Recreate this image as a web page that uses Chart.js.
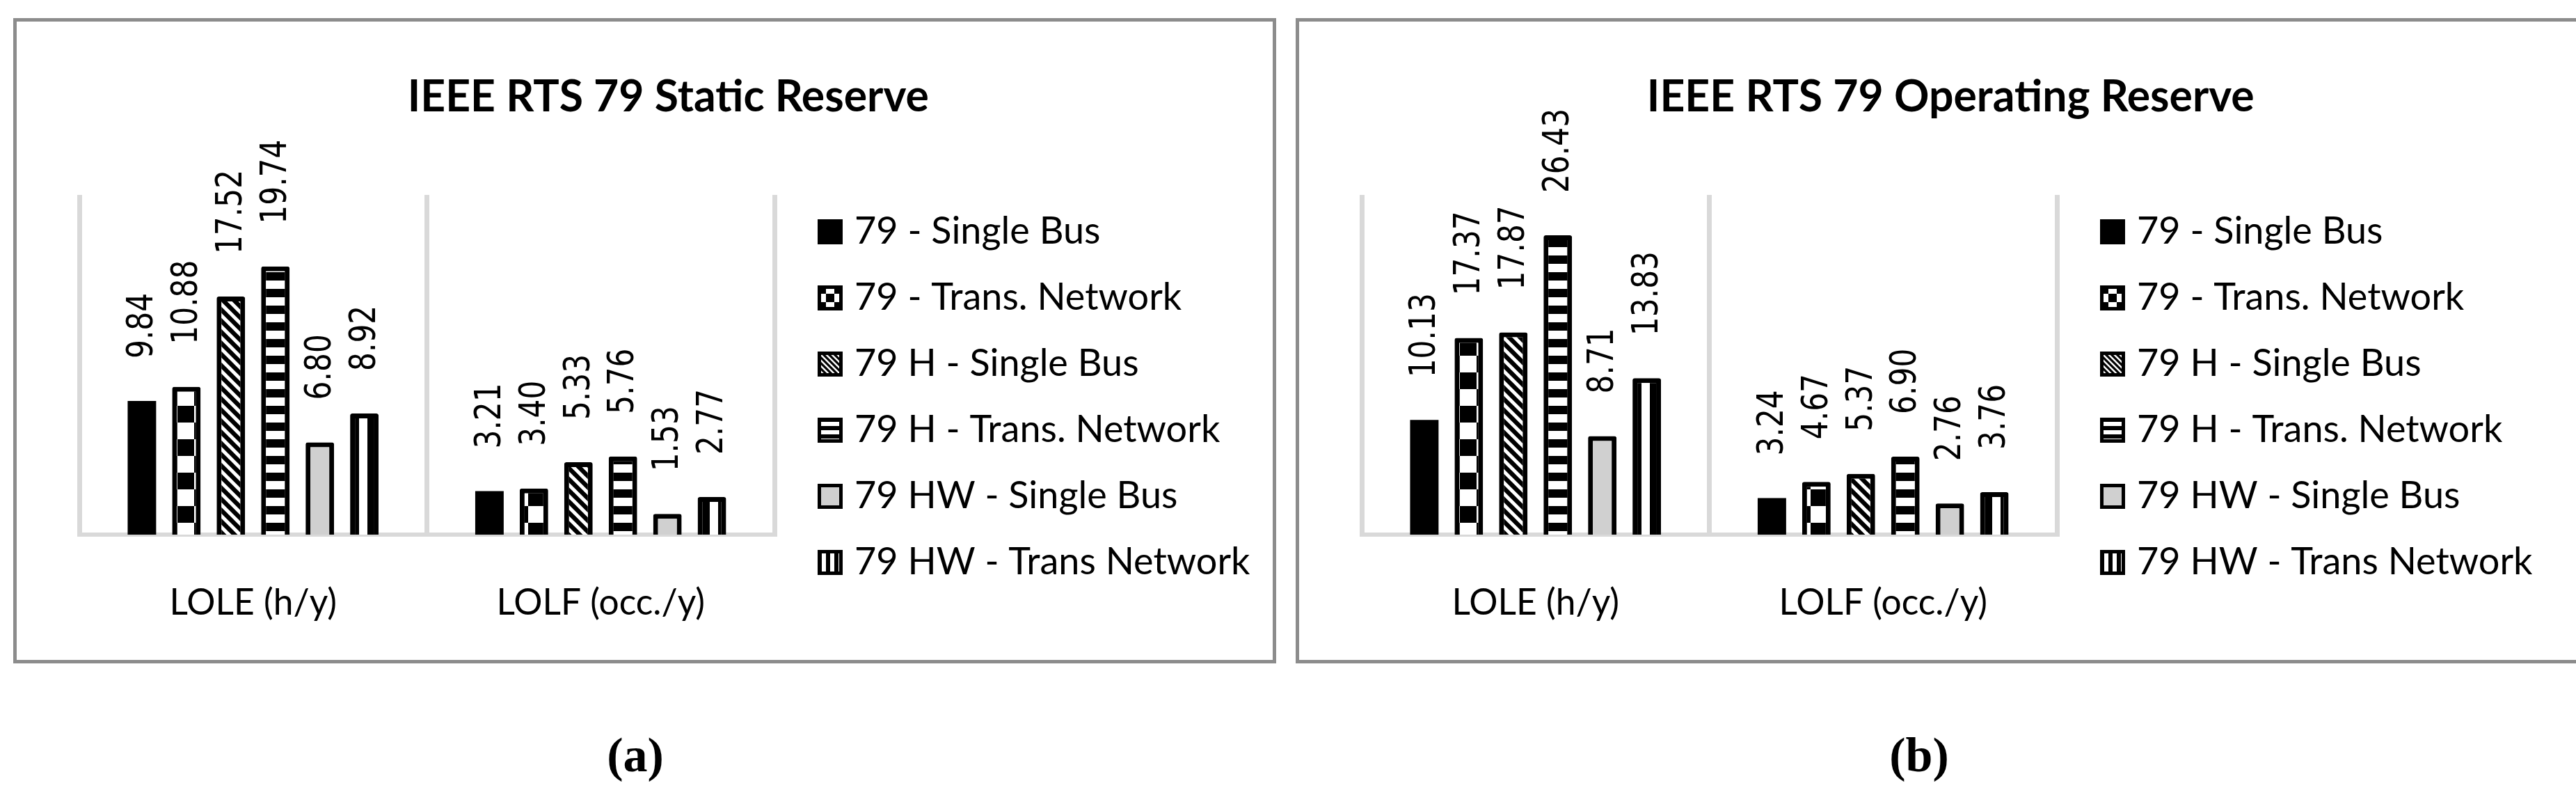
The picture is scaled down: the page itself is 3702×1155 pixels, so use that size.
<!DOCTYPE html>
<html>
<head>
<meta charset="utf-8">
<script src="https://cdn.jsdelivr.net/npm/chart.js@4.4.0/dist/chart.umd.min.js"></script>
<style>
  html, body { margin: 0; padding: 0; background: #fff; }
  body { width: 3702px; height: 1155px; position: relative; overflow: hidden; }
  .frame { position: absolute; top: 26px; height: 917px; border: 5px solid #8c8c8c; background: #fff; }
  #frameA { left: 19px; width: 1805px; }
  #frameB { left: 1862px; width: 1840px; }
  .frame canvas { position: absolute; left: 0; top: 0; }
  .cap { position: absolute; top: 1050px; width: 200px; text-align: center;
         font-family: "Liberation Serif", serif; font-weight: bold; font-size: 70px; line-height: 70px; }
</style>
</head>
<body>
<div class="frame" id="frameA"><canvas id="chartA" width="1805" height="933"></canvas></div>
<div class="frame" id="frameB"><canvas id="chartB" width="1805" height="933"></canvas></div>
<div class="cap" style="left:813px">(a)</div>
<div class="cap" style="left:2658px">(b)</div>
<script>
// values
const categories = ["LOLE (h/y)", "LOLF (occ./y)"];
const seriesNames = ["79 - Single Bus", "79 - Trans. Network", "79 H - Single Bus",
                     "79 H - Trans. Network", "79 HW - Single Bus", "79 HW - Trans Network"];
const staticLOLE = [9.84, 10.88, 17.52, 19.74, 6.80, 8.92];
const staticLOLF = [3.21, 3.40, 5.33, 5.76, 1.53, 2.77];
const operatingLOLE = [10.13, 17.37, 17.87, 26.43, 8.71, 13.83];
const operatingLOLF = [3.24, 4.67, 5.37, 6.90, 2.76, 3.76];
const staticMax = 25;
const operatingMax = 30;

// layout (canvas pixels)
const W = 1805;
const legendFont = 54, legendPad = 41, legendBox = 16;
const legendLeft = 1120, plotLeft = 90, plotRight = 1089, titleCenter = 938;

function tile(size, draw) {
  const c = document.createElement("canvas");
  c.width = c.height = size;
  draw(c.getContext("2d"), size);
  return c;
}
function checker(cell) {
  return tile(cell * 2, (g, s) => {
    g.fillStyle = "#fff"; g.fillRect(0, 0, s, s);
    g.fillStyle = "#000"; g.fillRect(0, 0, cell, cell); g.fillRect(cell, cell, cell, cell);
  });
}
function diagonal(p, w) {
  return tile(p, (g, s) => {
    g.fillStyle = "#000"; g.fillRect(0, 0, s, s);
    g.strokeStyle = "#fff"; g.lineWidth = w;
    for (const k of [-s, 0, s]) {
      g.beginPath(); g.moveTo(k - 2, -2); g.lineTo(k + s + 2, s + 2); g.stroke();
    }
  });
}
function hbands(p) {
  return tile(p, (g, s) => {
    g.fillStyle = "#fff"; g.fillRect(0, 0, s, s);
    g.fillStyle = "#000"; g.fillRect(0, 0, s, s / 2);
  });
}
function vbands(p) {
  return tile(p, (g, s) => {
    g.fillStyle = "#fff"; g.fillRect(0, 0, s, s);
    g.fillStyle = "#000"; g.fillRect(0, 0, s / 2, s);
  });
}

function makeFills(ctx, big) {
  const sc = big ? 1 : 0.5;
  const pat = (c) => ctx.createPattern(c, "repeat");
  const ch = pat(checker(Math.round(24 * sc)));
  if (big) ch.setTransform(new DOMMatrix().translate(15, 0));
  return ["#000", ch, pat(diagonal(Math.round(16 * sc), 5 * sc)),
          pat(hbands(Math.round(24 * sc))), "#d0d0d0", pat(vbands(Math.round(24 * sc)))];
}

const legendIcons = (() => {
  const out = [];
  for (let i = 0; i < 6; i++) {
    out.push(tile(36, (g, s) => {
      const f = makeFills(g, false)[i];
      g.fillStyle = "#000"; g.fillRect(0, 0, s, s);
      if (i > 0) { g.fillStyle = f; g.fillRect(5, 5, s - 10, s - 10); }
    }));
  }
  return out;
})();

const valueLabels = {
  id: "valueLabels",
  afterDatasetsDraw(chart) {
    const ctx = chart.ctx;
    ctx.save();
    ctx.fillStyle = "#000";
    ctx.font = "51px \"DejaVu Sans\"";
    ctx.textAlign = "left";
    ctx.textBaseline = "middle";
    chart.data.datasets.forEach((ds, i) => {
      chart.getDatasetMeta(i).data.forEach((bar, j) => {
        ctx.save();
        ctx.translate(bar.x + 2, bar.y - 61);
        ctx.rotate(-Math.PI / 2);
        ctx.scale(0.83, 1);
        ctx.fillText(ds.data[j].toFixed(2), 0, 0);
        ctx.restore();
      });
    });
    ctx.restore();
  }
};

function makeChart(id, title, lole, lolf, yMax) {
  const ctx = document.getElementById(id).getContext("2d");
  ctx.font = legendFont + "px Lato";
  const textW = Math.max(...seriesNames.map(s => ctx.measureText(s).width));
  const legendW = legendPad + legendBox + legendFont / 2 + textW + 10;
  const padRight = Math.max(0, W - legendLeft - legendW);
  const padLeft = Math.min(plotLeft, 2 * titleCenter - W + padRight);
  const fills = makeFills(ctx, true);

  return new Chart(ctx, {
    type: "bar",
    data: {
      labels: categories,
      datasets: seriesNames.map((name, i) => ({
        label: name,
        data: [lole[i], lolf[i]],
        backgroundColor: fills[i],
        borderColor: "#000",
        borderWidth: i === 0 ? 0 : 7,
        borderRadius: i === 0 ? 0 : 3,
        categoryPercentage: 0.768,
        barPercentage: 0.64
      }))
    },
    options: {
      responsive: false,
      animation: false,
      devicePixelRatio: 1,
      events: [],
      layout: { padding: { left: padLeft, right: padRight, top: 0, bottom: 0 } },
      scales: {
        x: {
          grid: { color: "#d9d9d9", lineWidth: 7, offset: true, drawTicks: false },
          border: { color: "#d9d9d9", width: 6 },
          ticks: { color: "#000", padding: 67, font: { family: "Lato", size: 51.5, lineHeight: 1.2 } }
        },
        y: {
          min: 0, max: yMax,
          grid: { display: false }, border: { display: false }, ticks: { display: false },
          afterFit: s => { s.width = plotLeft - padLeft; }
        },
        gap: {
          type: "linear", position: "right",
          grid: { display: false }, border: { display: false }, ticks: { display: false },
          afterFit: s => { s.width = legendLeft - plotRight; }
        }
      },
      plugins: {
        title: {
          display: true, text: title, color: "#000",
          font: { family: "Lato", size: 62.5, weight: "bold", lineHeight: 1.2 },
          padding: { top: 71.5, bottom: 102.5 }
        },
        legend: {
          position: "right",
          maxWidth: W - legendLeft - padRight,
          title: { display: true, text: "", font: { size: 10, lineHeight: 1 }, padding: { top: 136, bottom: 0 } },
          labels: {
            usePointStyle: true,
            boxWidth: legendBox,
            padding: legendPad,
            color: "#000",
            font: { family: "Lato", size: legendFont },
            generateLabels: chart => Chart.defaults.plugins.legend.labels.generateLabels(chart)
              .map((item, i) => Object.assign(item, { pointStyle: legendIcons[i] }))
          }
        },
        tooltip: { enabled: false }
      }
    },
    plugins: [valueLabels]
  });
}

makeChart("chartA", "IEEE RTS 79 Static Reserve", staticLOLE, staticLOLF, staticMax);
makeChart("chartB", "IEEE RTS 79 Operating Reserve", operatingLOLE, operatingLOLF, operatingMax);
</script>
</body>
</html>
